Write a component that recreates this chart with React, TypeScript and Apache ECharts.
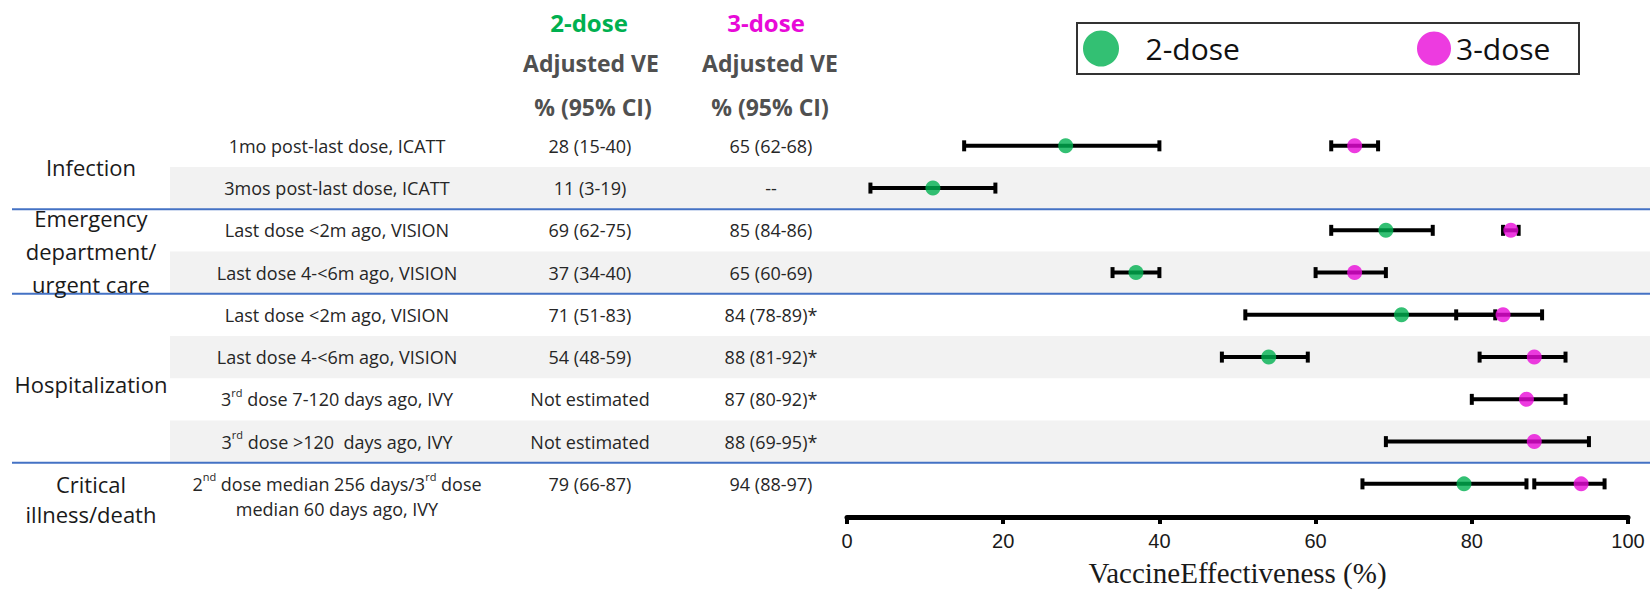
import React, { useEffect, useRef } from 'react';
import * as echarts from 'echarts';

// ---------------- data ----------------
const groupNames = ['Infection', 'Emergency\ndepartment/\nurgent care', 'Hospitalization', 'Critical\nillness/death'];
const rowGroup = [0, 0, 1, 1, 2, 2, 2, 2, 3];
const rowLabels = [
  '1mo post-last dose, ICATT',
  '3mos post-last dose, ICATT',
  'Last dose <2m ago, VISION',
  'Last dose 4-<6m ago, VISION',
  'Last dose <2m ago, VISION',
  'Last dose 4-<6m ago, VISION',
  '3{sup|rd} dose 7-120 days ago, IVY',
  '3{sup|rd} dose >120  days ago, IVY',
  '2{sup|nd} dose median 256 days/3{sup|rd} dose\nmedian 60 days ago, IVY',
];
const ve2: (number | null)[] = [28, 11, 69, 37, 71, 54, null, null, 79];
const lo2: (number | null)[] = [15, 3, 62, 34, 51, 48, null, null, 66];
const hi2: (number | null)[] = [40, 19, 75, 40, 83, 59, null, null, 87];
const ve3: (number | null)[] = [65, null, 85, 65, 84, 88, 87, 88, 94];
const lo3: (number | null)[] = [62, null, 84, 60, 78, 81, 80, 69, 88];
const hi3: (number | null)[] = [68, null, 86, 69, 89, 92, 92, 95, 97];
const star3 = [false, false, false, false, true, true, true, true, false];
const missing2 = 'Not estimated';
const missing3 = '--';
const seriesNames = ['2-dose', '3-dose'];
const headerLines = ['Adjusted VE', '% (95% CI)'];
const axisTitle = 'VaccineEffectiveness (%)';
const xMin = 0;
const xMax = 100;
const xStep = 20;

// ---------------- style ----------------
const GREEN = '#00b050';
const MAGENTA = '#e80ad8';
const FONT = "'Open Sans', sans-serif";
const TEXT = '#262626';
const COL_LABEL = 337;
const COL_2 = 590;
const COL_3 = 771;
const COL_GROUP = 91;
const groupNudge = [0, 0, 6, 15];
const groupLineHeight = [30, 33, 30, 30];

const text2 = ve2.map((v, i) => (v == null ? missing2 : `${v} (${lo2[i]}-${hi2[i]})`));
const text3 = ve3.map((v, i) => (v == null ? missing3 : `${v} (${lo3[i]}-${hi3[i]})${star3[i] ? '*' : ''}`));

function txt(x: number, y: number, text: string, extra: any = {}) {
  return {
    type: 'text',
    z2: 10,
    style: {
      x,
      y,
      text,
      fontFamily: FONT,
      fontSize: 18,
      fill: TEXT,
      align: 'center',
      textAlign: 'center',
      verticalAlign: 'middle',
      textVerticalAlign: 'middle',
      ...extra,
    },
  };
}

function renderTableRow(_params: any, api: any) {
  const i = api.value(1) as number;
  const cy = api.coord([0, i])[1];
  const band = api.size([0, 1])[1];
  const W = api.getWidth();
  const children: any[] = [];
  if (i % 2 === 1) {
    children.push({
      type: 'rect',
      z2: 0,
      shape: { x: 170, y: cy - band / 2, width: W - 170, height: band },
      style: { fill: '#f2f2f2' },
    });
  }
  if (i < rowGroup.length - 1 && rowGroup[i + 1] !== rowGroup[i]) {
    children.push({
      type: 'line',
      z2: 1,
      shape: { x1: 12, y1: cy + band / 2, x2: W, y2: cy + band / 2 },
      style: { stroke: '#4472c4', lineWidth: 2 },
    });
  }
  children.push(
    txt(COL_LABEL, cy - 12.5, rowLabels[i], {
      verticalAlign: 'top',
      textVerticalAlign: 'top',
      lineHeight: 25,
      rich: {
        sup: { fontSize: 11, fontFamily: FONT, fill: TEXT, color: TEXT, verticalAlign: 'top', lineHeight: 20 },
      },
    })
  );
  children.push(txt(COL_2, cy, text2[i]));
  children.push(txt(COL_3, cy, text3[i]));
  const g = rowGroup[i];
  if (rowGroup.indexOf(g) === i) {
    const last = rowGroup.lastIndexOf(g);
    const gy = (cy + api.coord([0, last])[1]) / 2 + groupNudge[g];
    children.push(
      txt(COL_GROUP, gy, groupNames[g], { fontSize: 22, fill: '#1a1a1a', lineHeight: groupLineHeight[g] })
    );
  }
  return { type: 'group', children };
}

function renderErrBar(_params: any, api: any) {
  const row = api.value(2);
  const a = api.coord([api.value(0), row]);
  const b = api.coord([api.value(1), row]);
  const cap = 5.5;
  const st = { stroke: '#000', lineWidth: 4 };
  return {
    type: 'group',
    children: [
      { type: 'line', shape: { x1: a[0], y1: a[1], x2: b[0], y2: b[1] }, style: st },
      { type: 'line', shape: { x1: a[0], y1: a[1] - cap, x2: a[0], y2: a[1] + cap }, style: st },
      { type: 'line', shape: { x1: b[0], y1: b[1] - cap, x2: b[0], y2: b[1] + cap }, style: st },
    ],
  };
}

function errData(lo: (number | null)[], hi: (number | null)[]) {
  const out: number[][] = [];
  lo.forEach((l, i) => {
    if (l != null && hi[i] != null) out.push([l, hi[i] as number, i]);
  });
  return out;
}
function pointData(ve: (number | null)[]) {
  const out: number[][] = [];
  ve.forEach((v, i) => {
    if (v != null) out.push([v, i]);
  });
  return out;
}

function headerText(x: number, y: number, text: string, fill: string, size = 23) {
  return {
    type: 'text',
    x,
    y,
    style: {
      text,
      fontFamily: FONT,
      fontWeight: 'bold',
      fontSize: size,
      fill,
      align: 'center',
      textAlign: 'center',
      verticalAlign: 'middle',
      textVerticalAlign: 'middle',
    },
  };
}

function buildOption(): any {
  const legendText = { fontFamily: FONT, fontSize: 30, color: '#111' };
  return {
    animation: false,
    backgroundColor: '#fff',
    grid: { left: 847, right: 22, top: 124.7, bottom: 83.9, containLabel: false },
    xAxis: {
      type: 'value',
      min: xMin,
      max: xMax,
      interval: xStep,
      offset: 12,
      splitLine: { show: false },
      axisLine: { show: true, lineStyle: { color: '#000', width: 5 } },
      axisTick: { show: true, length: 7, lineStyle: { color: '#000', width: 4 } },
      axisLabel: { margin: 14, fontFamily: "'Liberation Sans', Arial, sans-serif", fontSize: 20, color: '#1a1a1a' },
      name: axisTitle,
      nameLocation: 'middle',
      nameGap: 41,
      nameTextStyle: { fontFamily: "'Liberation Serif', 'Times New Roman', serif", fontSize: 29, color: '#1a1a1a' },
    },
    yAxis: {
      type: 'category',
      data: rowLabels.map((_, i) => 'r' + i),
      inverse: true,
      show: false,
    },
    legend: [
      {
        data: [seriesNames[0]],
        left: 1083,
        top: 30.5,
        padding: 0,
        itemWidth: 79,
        itemHeight: 36,
        icon: 'circle',
        selectedMode: false,
        textStyle: legendText,
      },
      {
        data: [seriesNames[1]],
        left: 1417,
        top: 31.5,
        padding: 0,
        itemWidth: 34,
        itemHeight: 34,
        icon: 'circle',
        selectedMode: false,
        textStyle: legendText,
      },
    ],
    graphic: [
      {
        type: 'rect',
        shape: { x: 1077, y: 23, width: 502, height: 51 },
        style: { fill: 'none', stroke: '#333', lineWidth: 2 },
      },
      headerText(589, 22, seriesNames[0], GREEN, 24),
      headerText(766, 22, seriesNames[1], MAGENTA, 24),
      headerText(591, 63, headerLines[0], '#505050'),
      headerText(770, 63, headerLines[0], '#505050'),
      headerText(593, 107, headerLines[1], '#505050'),
      headerText(770, 107, headerLines[1], '#505050'),
    ],
    series: [
      {
        type: 'custom',
        name: 'table',
        z: 0,
        silent: true,
        renderItem: renderTableRow,
        encode: { x: 0, y: 1 },
        data: rowGroup.map((_, i) => [0, i]),
      },
      {
        type: 'custom',
        name: 'ci2',
        z: 2,
        renderItem: renderErrBar,
        encode: { x: [0, 1], y: 2 },
        data: errData(lo2, hi2),
      },
      {
        type: 'custom',
        name: 'ci3',
        z: 2,
        renderItem: renderErrBar,
        encode: { x: [0, 1], y: 2 },
        data: errData(lo3, hi3),
      },
      {
        type: 'scatter',
        name: seriesNames[0],
        z: 3,
        symbol: 'circle',
        symbolSize: 15,
        itemStyle: { color: GREEN },
        data: pointData(ve2),
      },
      {
        type: 'scatter',
        name: seriesNames[1],
        z: 3,
        symbol: 'circle',
        symbolSize: 15,
        itemStyle: { color: MAGENTA },
        data: pointData(ve3),
      },
    ],
  };
}

export default function App() {
  const ref = useRef<HTMLDivElement>(null);
  useEffect(() => {
    if (!ref.current) return;
    const chart = echarts.init(ref.current, undefined, { renderer: 'svg' });
    chart.setOption(buildOption());
    return () => chart.dispose();
  }, []);
  return (
    <div
      ref={ref}
      style={{ position: 'fixed', left: 0, top: 0, width: 1650, height: 592, background: '#fff' }}
    />
  );
}
